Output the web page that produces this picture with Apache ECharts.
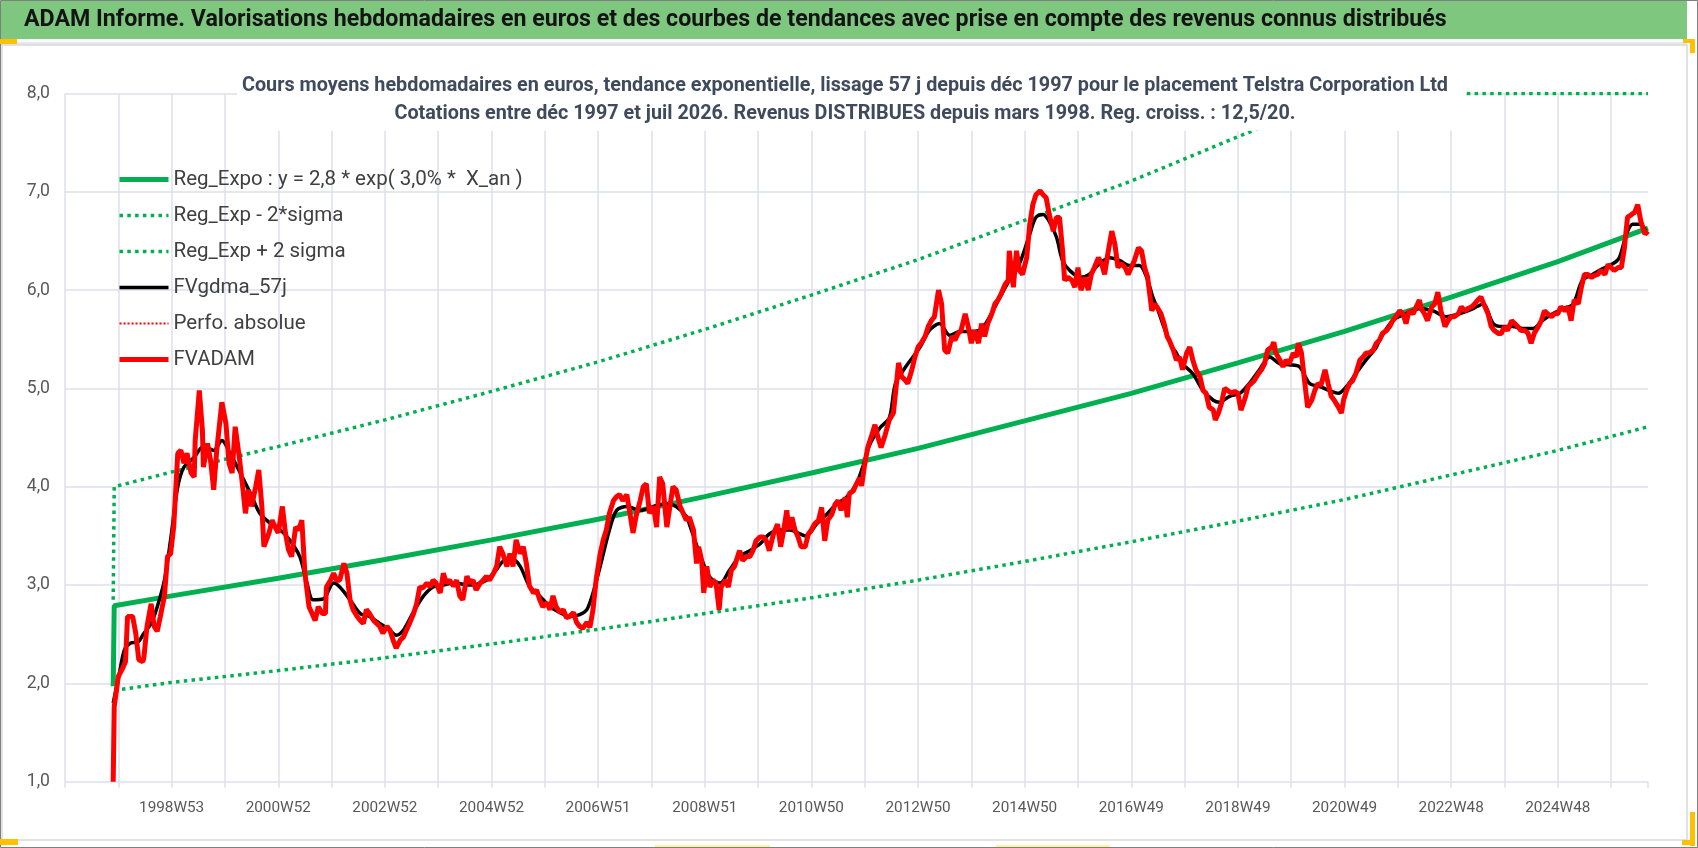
<!DOCTYPE html>
<html>
<head>
<meta charset="utf-8">
<title>Telstra Corporation Ltd - ADAM</title>
<script src="https://cdn.jsdelivr.net/npm/echarts@6.0.0/dist/echarts.min.js"></script>
<style>
  html, body { margin: 0; padding: 0; background: #fff; }
  #chart { width: 1698px; height: 848px; }
</style>
</head>
<body>
<div id="chart"></div>
<script>
// x = week index from the left edge of the plot (one gridline every 52 weeks)
var xLabelWeeks = [104, 208, 312, 416, 520, 624, 728, 832, 936, 1040, 1144, 1248, 1352, 1456];
var xLabels = ['1998W53', '2000W52', '2002W52', '2004W52', '2006W51', '2008W51', '2010W50',
               '2012W50', '2014W50', '2016W49', '2018W49', '2020W49', '2022W48', '2024W48'];

var regExpo = [[47,1.97],[48,2.79],[104,2.89],[208,3.07],[312,3.26],[416,3.46],[520,3.67],[624,3.90],
  [728,4.14],[832,4.39],[936,4.67],[1040,4.95],[1144,5.26],[1248,5.58],[1352,5.93],[1456,6.29],[1544,6.63]];

var regLow = [[48,1.93],[104,2.01],[208,2.13],[312,2.26],[416,2.40],[520,2.55],[624,2.71],[728,2.87],
  [832,3.05],[936,3.24],[1040,3.44],[1144,3.65],[1248,3.87],[1352,4.12],[1456,4.37],[1544,4.61]];

// values above the 8,0 axis max sit on the top edge, as in the source
var regHigh = [[47,2.85],[48,4.00],[104,4.15],[208,4.41],[312,4.68],[416,4.97],[520,5.27],[624,5.60],
  [728,5.95],[832,6.31],[936,6.71],[1040,7.11],[1144,7.56],[1248,8.00],[1352,8.00],[1456,8.00],[1544,8.00]];

var gdma57 = [[47,1.80],[53,2.10],[58,2.34],[64,2.41],[71,2.42],[77,2.51],[84,2.61],[90,2.78],[97,3.05],
  [103,3.46],[110,4.00],[116,4.20],[126,4.30],[135,4.41],[145,4.37],[153,4.47],[161,4.34],[171,4.14],
  [181,3.93],[190,3.73],[200,3.63],[210,3.56],[219,3.46],[229,3.29],[236,3.02],[242,2.85],[252,2.86],
  [262,3.02],[268,2.98],[278,2.85],[288,2.71],[297,2.68],[307,2.61],[317,2.54],[323,2.49],[330,2.54],
  [339,2.71],[349,2.88],[359,2.98],[369,3.00],[379,3.02],[395,3.00],[411,3.05],[421,3.16],[427,3.24],
  [437,3.26],[444,3.19],[453,2.99],[463,2.89],[473,2.78],[483,2.72],[492,2.68],[502,2.70],[509,2.75],
  [515,2.92],[522,3.19],[531,3.56],[538,3.76],[548,3.80],[561,3.76],[574,3.80],[587,3.83],[596,3.80],
  [606,3.70],[609,3.62],[619,3.32],[629,3.08],[639,3.02],[648,3.15],[658,3.29],[668,3.35],[678,3.42],
  [687,3.52],[697,3.56],[707,3.56],[717,3.52],[723,3.50],[733,3.62],[743,3.72],[752,3.82],[762,3.89],
  [772,4.03],[778,4.20],[785,4.43],[795,4.60],[804,4.70],[810,5.05],[820,5.22],[834,5.42],[843,5.59],
  [853,5.66],[863,5.54],[873,5.58],[882,5.58],[892,5.59],[902,5.73],[912,5.93],[921,6.10],[931,6.27],
  [941,6.57],[947,6.74],[954,6.77],[960,6.70],[967,6.54],[973,6.30],[980,6.20],[990,6.13],[999,6.16],
  [1009,6.27],[1019,6.33],[1029,6.30],[1038,6.25],[1048,6.25],[1055,6.13],[1061,5.93],[1066,5.80],
  [1072,5.62],[1080,5.42],[1084,5.36],[1090,5.25],[1100,5.15],[1110,4.98],[1120,4.88],[1126,4.86],
  [1136,4.92],[1146,4.95],[1155,5.05],[1165,5.19],[1175,5.32],[1185,5.25],[1194,5.24],[1204,5.22],
  [1214,5.05],[1224,5.02],[1233,4.98],[1242,4.95],[1250,5.02],[1259,5.15],[1269,5.29],[1279,5.42],
  [1282,5.49],[1295,5.69],[1308,5.76],[1321,5.81],[1334,5.79],[1347,5.73],[1360,5.76],[1373,5.81],
  [1383,5.86],[1393,5.66],[1402,5.63],[1412,5.63],[1422,5.61],[1432,5.61],[1441,5.69],[1451,5.76],
  [1461,5.81],[1471,5.86],[1480,6.10],[1490,6.16],[1500,6.22],[1510,6.27],[1516,6.33],[1523,6.57],
  [1529,6.67],[1536,6.67],[1542,6.60]];

var fvadam = [[47,1.00],[48,1.76],[52,2.07],[56,2.15],[59,2.22],[61,2.68],[66,2.68],[69,2.51],[72,2.24],
  [76,2.22],[77,2.27],[80,2.58],[84,2.81],[87,2.58],[90,2.53],[93,2.68],[97,2.89],[100,3.29],[103,3.32],
  [106,3.59],[110,4.34],[113,4.37],[116,4.24],[119,4.34],[123,4.14],[126,4.10],[127,4.47],[131,4.98],
  [134,4.58],[135,4.20],[139,4.44],[142,4.27],[145,3.97],[148,4.37],[153,4.86],[157,4.64],[160,4.24],
  [163,4.14],[166,4.61],[170,4.30],[173,4.03],[176,3.73],[179,3.97],[182,3.80],[186,4.00],[189,4.17],
  [192,3.80],[194,3.39],[199,3.53],[202,3.66],[205,3.59],[208,3.53],[212,3.80],[215,3.53],[218,3.36],
  [221,3.29],[225,3.59],[228,3.56],[231,3.66],[234,3.12],[238,2.78],[241,2.71],[244,2.64],[247,2.78],
  [251,2.71],[254,2.71],[255,2.98],[259,3.05],[262,3.12],[265,3.05],[268,3.05],[272,3.22],[275,3.12],
  [278,2.85],[281,2.75],[285,2.68],[288,2.64],[291,2.61],[294,2.75],[297,2.71],[301,2.64],[304,2.61],
  [307,2.58],[310,2.51],[314,2.58],[317,2.54],[320,2.44],[323,2.36],[327,2.44],[330,2.47],[333,2.54],
  [336,2.61],[340,2.71],[343,2.81],[346,2.98],[349,2.97],[353,3.02],[356,2.98],[359,3.05],[362,3.02],
  [366,2.92],[369,3.12],[372,3.02],[375,3.05],[379,2.99],[382,3.05],[385,2.89],[388,2.85],[392,3.09],
  [395,3.02],[398,3.05],[401,2.95],[405,3.02],[408,3.05],[411,3.09],[414,3.05],[418,3.12],[421,3.19],
  [424,3.39],[427,3.32],[431,3.19],[434,3.32],[437,3.19],[440,3.46],[444,3.32],[447,3.39],[450,3.22],
  [453,2.99],[457,2.92],[460,2.95],[463,2.85],[466,2.78],[470,2.82],[473,2.75],[476,2.89],[479,2.78],
  [483,2.72],[486,2.75],[489,2.67],[492,2.68],[496,2.72],[499,2.62],[502,2.58],[505,2.56],[509,2.62],
  [512,2.57],[515,2.75],[518,3.05],[522,3.32],[525,3.46],[528,3.56],[531,3.73],[535,3.86],[538,3.90],
  [541,3.92],[544,3.86],[548,3.92],[551,3.73],[554,3.53],[557,3.70],[561,3.86],[564,4.00],[567,4.03],
  [570,3.73],[574,3.80],[577,3.59],[580,4.10],[583,4.03],[587,3.59],[590,3.80],[593,4.00],[596,3.97],
  [600,3.80],[603,3.73],[606,3.66],[609,3.69],[613,3.56],[616,3.22],[618,3.39],[621,3.25],[623,2.92],
  [626,3.19],[629,2.98],[632,3.05],[635,3.02],[638,2.75],[640,2.98],[644,3.05],[647,2.98],[650,3.15],
  [653,3.19],[657,3.32],[658,3.35],[661,3.25],[665,3.29],[668,3.29],[671,3.35],[674,3.45],[678,3.49],
  [681,3.49],[684,3.45],[687,3.35],[691,3.52],[695,3.62],[698,3.39],[701,3.56],[704,3.76],[706,3.56],
  [709,3.69],[712,3.56],[715,3.49],[718,3.39],[722,3.39],[725,3.52],[728,3.56],[731,3.62],[735,3.66],
  [738,3.79],[741,3.45],[744,3.66],[748,3.72],[751,3.82],[754,3.86],[757,3.76],[761,3.89],[763,3.69],
  [765,3.93],[769,3.96],[772,4.03],[775,4.09],[777,4.01],[780,4.23],[783,4.40],[787,4.53],[790,4.63],
  [793,4.50],[796,4.40],[800,4.53],[804,4.68],[808,4.75],[811,5.05],[813,5.26],[816,5.12],[819,5.09],
  [822,5.05],[826,5.19],[829,5.32],[832,5.42],[835,5.46],[839,5.53],[842,5.63],[845,5.69],[848,5.73],
  [852,6.00],[855,5.86],[858,5.39],[861,5.36],[865,5.53],[868,5.49],[871,5.56],[874,5.59],[878,5.76],
  [881,5.63],[884,5.46],[887,5.59],[891,5.46],[894,5.66],[897,5.53],[900,5.66],[904,5.76],[907,5.86],
  [910,5.90],[913,5.96],[917,6.06],[920,6.10],[921,6.40],[925,6.03],[928,6.40],[931,6.20],[934,6.16],
  [938,6.33],[941,6.67],[944,6.87],[947,6.97],[951,7.01],[954,6.97],[957,6.94],[960,6.77],[964,6.60],
  [967,6.74],[970,6.74],[973,6.40],[975,6.10],[978,6.13],[982,6.10],[985,6.03],[988,6.23],[991,6.00],
  [995,6.13],[998,6.00],[1001,6.16],[1004,6.23],[1008,6.33],[1011,6.27],[1014,6.16],[1017,6.36],
  [1021,6.60],[1024,6.47],[1027,6.23],[1030,6.27],[1034,6.23],[1037,6.16],[1040,6.23],[1043,6.30],
  [1047,6.43],[1050,6.40],[1053,6.23],[1056,6.13],[1060,5.79],[1063,5.86],[1065,5.83],[1069,5.76],
  [1072,5.66],[1075,5.53],[1077,5.49],[1081,5.39],[1084,5.29],[1087,5.32],[1090,5.19],[1094,5.36],
  [1097,5.42],[1100,5.29],[1103,5.19],[1107,5.12],[1110,4.98],[1113,4.95],[1116,4.81],[1120,4.78],
  [1122,4.68],[1125,4.75],[1128,4.85],[1131,5.00],[1134,4.98],[1138,4.95],[1141,4.97],[1144,4.95],
  [1147,4.78],[1151,4.90],[1154,5.02],[1157,5.05],[1160,5.08],[1164,5.15],[1167,5.19],[1170,5.25],
  [1173,5.39],[1177,5.42],[1179,5.47],[1181,5.36],[1185,5.29],[1188,5.22],[1191,5.29],[1194,5.25],
  [1198,5.36],[1201,5.32],[1203,5.46],[1206,5.36],[1209,5.08],[1212,4.81],[1216,4.88],[1219,4.98],
  [1222,5.05],[1225,5.03],[1229,5.19],[1232,5.05],[1235,4.92],[1238,4.88],[1242,4.81],[1245,4.75],
  [1247,4.88],[1250,4.98],[1253,5.05],[1256,5.08],[1259,5.15],[1263,5.29],[1266,5.32],[1269,5.36],
  [1272,5.36],[1276,5.39],[1279,5.46],[1282,5.49],[1285,5.56],[1289,5.59],[1292,5.63],[1295,5.69],
  [1298,5.73],[1302,5.79],[1305,5.76],[1308,5.66],[1311,5.79],[1315,5.76],[1318,5.83],[1321,5.90],
  [1323,5.81],[1326,5.76],[1329,5.69],[1333,5.83],[1336,5.86],[1339,5.98],[1342,5.79],[1346,5.63],
  [1349,5.69],[1352,5.73],[1355,5.73],[1359,5.76],[1362,5.83],[1365,5.79],[1368,5.81],[1372,5.83],
  [1375,5.86],[1378,5.90],[1381,5.93],[1385,5.83],[1388,5.76],[1391,5.63],[1394,5.59],[1398,5.56],
  [1401,5.56],[1404,5.63],[1407,5.59],[1411,5.69],[1414,5.66],[1417,5.63],[1420,5.59],[1424,5.59],
  [1427,5.56],[1430,5.46],[1433,5.56],[1437,5.63],[1440,5.69],[1443,5.79],[1446,5.76],[1450,5.73],
  [1453,5.76],[1456,5.76],[1459,5.83],[1463,5.79],[1466,5.83],[1469,5.69],[1472,5.90],[1476,5.86],
  [1479,6.03],[1482,6.16],[1485,6.16],[1489,6.13],[1492,6.15],[1495,6.16],[1498,6.20],[1502,6.16],
  [1505,6.26],[1508,6.23],[1511,6.20],[1515,6.23],[1518,6.23],[1521,6.43],[1524,6.74],[1528,6.77],
  [1531,6.79],[1534,6.87],[1537,6.70],[1541,6.57],[1544,6.60]];

var perfoAbsolue = [];

var FONT = "Roboto, 'Liberation Sans', sans-serif";
var GREEN = '#00B050';
var GRID = '#DDE1E8';

var names = ['Reg_Expo : y = 2,8 * exp( 3,0% *  X_an )', 'Reg_Exp - 2*sigma', 'Reg_Exp + 2 sigma',
             'FVgdma_57j', 'Perfo. absolue', 'FVADAM'];

var myChart = echarts.init(document.getElementById('chart'));

var option = {
  animation: false,
  backgroundColor: '#fff',
  textStyle: { fontFamily: FONT },
  graphic: [
    { type: 'rect', shape: { x: 0.5, y: 0.5, width: 1697, height: 847 }, style: { fill: 'none', stroke: '#7F7F7F', lineWidth: 1 } },
    { type: 'rect', shape: { x: 1, y: 1, width: 1686, height: 38 }, style: { fill: '#7DC87E' } },
    { type: 'rect', shape: { x: 1, y: 42, width: 1686, height: 3 }, style: { fill: '#E6E8EC' } },
    { type: 'rect', shape: { x: 2, y: 45, width: 1685, height: 795 }, style: { fill: 'none', stroke: '#D9D9D9', lineWidth: 1.5 } },
    { type: 'rect', shape: { x: 0, y: 39, width: 17, height: 5 }, style: { fill: '#FFC000' } },
    { type: 'rect', shape: { x: 1683, y: 39, width: 12, height: 4 }, style: { fill: '#FFC000' } },
    { type: 'rect', shape: { x: 1690, y: 39, width: 5, height: 14 }, style: { fill: '#FFC000' } },
    { type: 'rect', shape: { x: 1690, y: 812, width: 5, height: 34 }, style: { fill: '#FFC000' } },
    { type: 'rect', shape: { x: 1682, y: 840, width: 13, height: 5 }, style: { fill: '#FFC000' } },
    { type: 'rect', shape: { x: 0, y: 839, width: 18, height: 6 }, style: { fill: '#FFC000' } },
    { type: 'rect', shape: { x: 655, y: 845, width: 115, height: 2 }, style: { fill: '#FFF3A0' } },
    { type: 'rect', shape: { x: 996, y: 845, width: 114, height: 2 }, style: { fill: '#FFF3A0' } }
  ],
  title: [
    {
      text: 'ADAM Informe. Valorisations hebdomadaires en euros et des courbes de tendances avec prise en compte des revenus connus distribués',
      left: 24, top: 9, padding: 0,
      textStyle: { fontFamily: FONT, fontSize: 23.2, fontWeight: 'bold', color: '#141414', lineHeight: 23.2 }
    },
    {
      text: 'Cours moyens hebdomadaires en euros, tendance exponentielle, lissage 57 j depuis déc 1997 pour le placement Telstra Corporation Ltd',
      subtext: 'Cotations entre déc 1997 et juil 2026. Revenus DISTRIBUES depuis mars 1998. Reg. croiss. : 12,5/20.',
      left: 840, top: 67.6, textAlign: 'center',
      padding: [9, 18, 7, 5], itemGap: 7.2,
      backgroundColor: '#fff',
      textStyle: { fontFamily: FONT, fontSize: 19.8, fontWeight: 'bold', color: '#3F4A5C', lineHeight: 19.8 },
      subtextStyle: { fontFamily: FONT, fontSize: 19.8, fontWeight: 'bold', color: '#3F4A5C', lineHeight: 19.8 }
    }
  ],
  legend: {
    orient: 'vertical',
    left: 112, top: 164,
    itemWidth: 49, itemHeight: 14, itemGap: 15,
    itemStyle: { opacity: 0 },
    textStyle: { fontFamily: FONT, fontSize: 20.5, color: '#404040', lineHeight: 21 },
    data: [
      { name: names[0], lineStyle: { width: 5 } },
      { name: names[1], lineStyle: { width: 3.5 } },
      { name: names[2], lineStyle: { width: 3.5 } },
      { name: names[3], lineStyle: { width: 3.5 } },
      { name: names[4], lineStyle: { width: 2 } },
      { name: names[5], lineStyle: { width: 5 } }
    ]
  },
  grid: { left: 65, right: 50, top: 93.5, bottom: 66.3 },
  xAxis: {
    type: 'value',
    min: 0, max: 1544, interval: 52,
    axisLine: { show: false },
    axisTick: { show: true, length: 6, lineStyle: { color: GRID, width: 1.5 } },
    splitLine: { show: true, showMaxLine: false, lineStyle: { color: GRID, width: 1.5 } },
    axisLabel: {
      color: '#595959', fontSize: 15.3, fontFamily: FONT, margin: 19,
      formatter: function (v) {
        var i = xLabelWeeks.indexOf(v);
        return i < 0 ? '' : xLabels[i];
      }
    }
  },
  yAxis: {
    type: 'value',
    min: 1, max: 8, interval: 1,
    axisLine: { show: false },
    axisTick: { show: false },
    splitLine: { lineStyle: { color: GRID, width: 1.5 } },
    axisLabel: {
      color: '#595959', fontSize: 17.6, fontFamily: FONT, margin: 15,
      formatter: function (v) { return v.toFixed(1).replace('.', ','); }
    }
  },
  series: [
    { name: names[0], type: 'line', data: regExpo, symbol: 'none', itemStyle: { color: GREEN },
      lineStyle: { color: GREEN, width: 5 } },
    { name: names[1], type: 'line', data: regLow, symbol: 'none', itemStyle: { color: GREEN },
      lineStyle: { color: GREEN, width: 3.5, type: [3.5, 4.3] } },
    { name: names[2], type: 'line', data: regHigh, symbol: 'none', itemStyle: { color: GREEN },
      lineStyle: { color: GREEN, width: 3.5, type: [3.5, 4.3] } },
    { name: names[3], type: 'line', data: gdma57, symbol: 'none', smooth: 0.3, itemStyle: { color: '#000' },
      lineStyle: { color: '#000', width: 3.5 } },
    { name: names[4], type: 'line', data: perfoAbsolue, symbol: 'none', itemStyle: { color: '#FF0000' },
      lineStyle: { color: '#FF0000', width: 2, type: [2, 2] } },
    { name: names[5], type: 'line', data: fvadam, symbol: 'none', itemStyle: { color: '#FF0000' },
      lineStyle: { color: '#FF0000', width: 5 } }
  ]
};

myChart.setOption(option);
</script>
</body>
</html>
